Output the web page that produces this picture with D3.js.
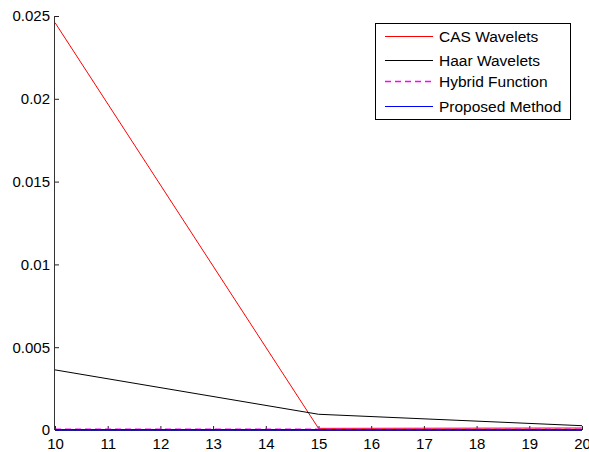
<!DOCTYPE html>
<html>
<head>
<meta charset="utf-8">
<script src="https://cdn.jsdelivr.net/npm/d3@7"></script>
<style>
  body { margin: 0; background: #fff; }
  svg { display: block; font-family: Arial, "Liberation Sans", sans-serif; }
</style>
</head>
<body>
<div id="chart"></div>
<script>
// data
const nValues = [10, 15, 20];
const casWavelets = [0.0246, 0.00010, 0.00012];
const haarWavelets = [0.00363, 0.00095, 0.00026];
const hybridFunction = [0.00004, 0.00004, 0.00004];
const proposedMethod = [0.00001, 0.00001, 0.00001];
const xTicks = [10, 11, 12, 13, 14, 15, 16, 17, 18, 19, 20];
const yTicks = [0, 0.005, 0.01, 0.015, 0.02, 0.025];
const seriesNames = ["CAS Wavelets", "Haar Wavelets", "Hybrid Function", "Proposed Method"];

const width = 589, height = 452;
const margin = {left: 55, right: 7, top: 16, bottom: 22};
const fontFam = "Arial, 'Liberation Sans', sans-serif";

const svg = d3.select("#chart").append("svg")
  .attr("width", width)
  .attr("height", height);

const x = d3.scaleLinear().domain([10, 20]).range([margin.left, width - margin.right]);
const y = d3.scaleLinear().domain([0, 0.025]).range([height - margin.bottom, margin.top]);

// axes first so the near-zero lines sit on top, ticks point inward like matlab
const xAxis = svg.append("g")
  .attr("transform", `translate(0,${height - margin.bottom})`)
  .call(d3.axisBottom(x).tickValues(xTicks).tickSize(-4).tickPadding(8).tickFormat(d3.format("d")));

const yAxis = svg.append("g")
  .attr("transform", `translate(${margin.left},0)`)
  .call(d3.axisLeft(y).tickValues(yTicks).tickSize(-4).tickPadding(5).tickFormat(d => d === 0 ? "0" : String(+d.toFixed(3))));

[xAxis, yAxis].forEach(a => {
  a.select(".domain").attr("stroke", "#333");
  a.selectAll(".tick line").attr("stroke", "#222");
  a.selectAll("text").attr("font-size", "15px").attr("fill", "#000").attr("font-family", fontFam);
});
yAxis.select(".domain").attr("d", `M-0.5,${y(0.025)}V${y(0)}`);
xAxis.select(".domain").attr("d", `M${x(10)},0.5H${x(20)}`);

// series: colour, dash, width
const series = [
  {name: seriesNames[0], values: casWavelets, color: "rgb(255,0,0)", dash: null, w: 1},
  {name: seriesNames[1], values: haarWavelets, color: "rgb(0,0,0)", dash: null, w: 1},
  {name: seriesNames[2], values: hybridFunction, color: "rgb(255,0,255)", dash: "6,4", w: 1.5},
  {name: seriesNames[3], values: proposedMethod, color: "rgb(0,0,255)", dash: null, w: 1.5}
];

const line = d3.line()
  .x(d => x(d[0]))
  .y(d => y(d[1]));

svg.selectAll(".series")
  .data(series)
  .enter()
  .append("path")
    .attr("class", "series")
    .attr("d", s => line(nValues.map((n, i) => [n, s.values[i]])))
    .attr("fill", "none")
    .attr("stroke", s => s.color)
    .attr("stroke-width", s => s.w)
    .attr("stroke-dasharray", s => s.dash);

// legend
const legend = svg.append("g").attr("transform", "translate(375,23)");
legend.append("rect")
  .attr("x", 0.5).attr("y", 0.5)
  .attr("width", 195).attr("height", 96)
  .attr("fill", "#fff").attr("stroke", "#000").attr("stroke-width", 1);

const rowY = [13.5, 37.5, 58.5, 83.5];
const items = legend.selectAll(".item")
  .data(series)
  .enter()
  .append("g")
    .attr("class", "item")
    .attr("transform", (s, i) => `translate(0,${rowY[i]})`);

items.append("line")
  .attr("x1", 10).attr("x2", 58)
  .attr("y1", 0).attr("y2", 0)
  .attr("stroke", s => s.color)
  .attr("stroke-width", s => s.dash ? 1.5 : 1)
  .attr("stroke-dasharray", s => s.dash);

items.append("text")
  .attr("x", 64).attr("y", 5.5)
  .attr("font-size", "15.5px")
  .attr("font-family", fontFam)
  .text(s => s.name);
</script>
</body>
</html>
